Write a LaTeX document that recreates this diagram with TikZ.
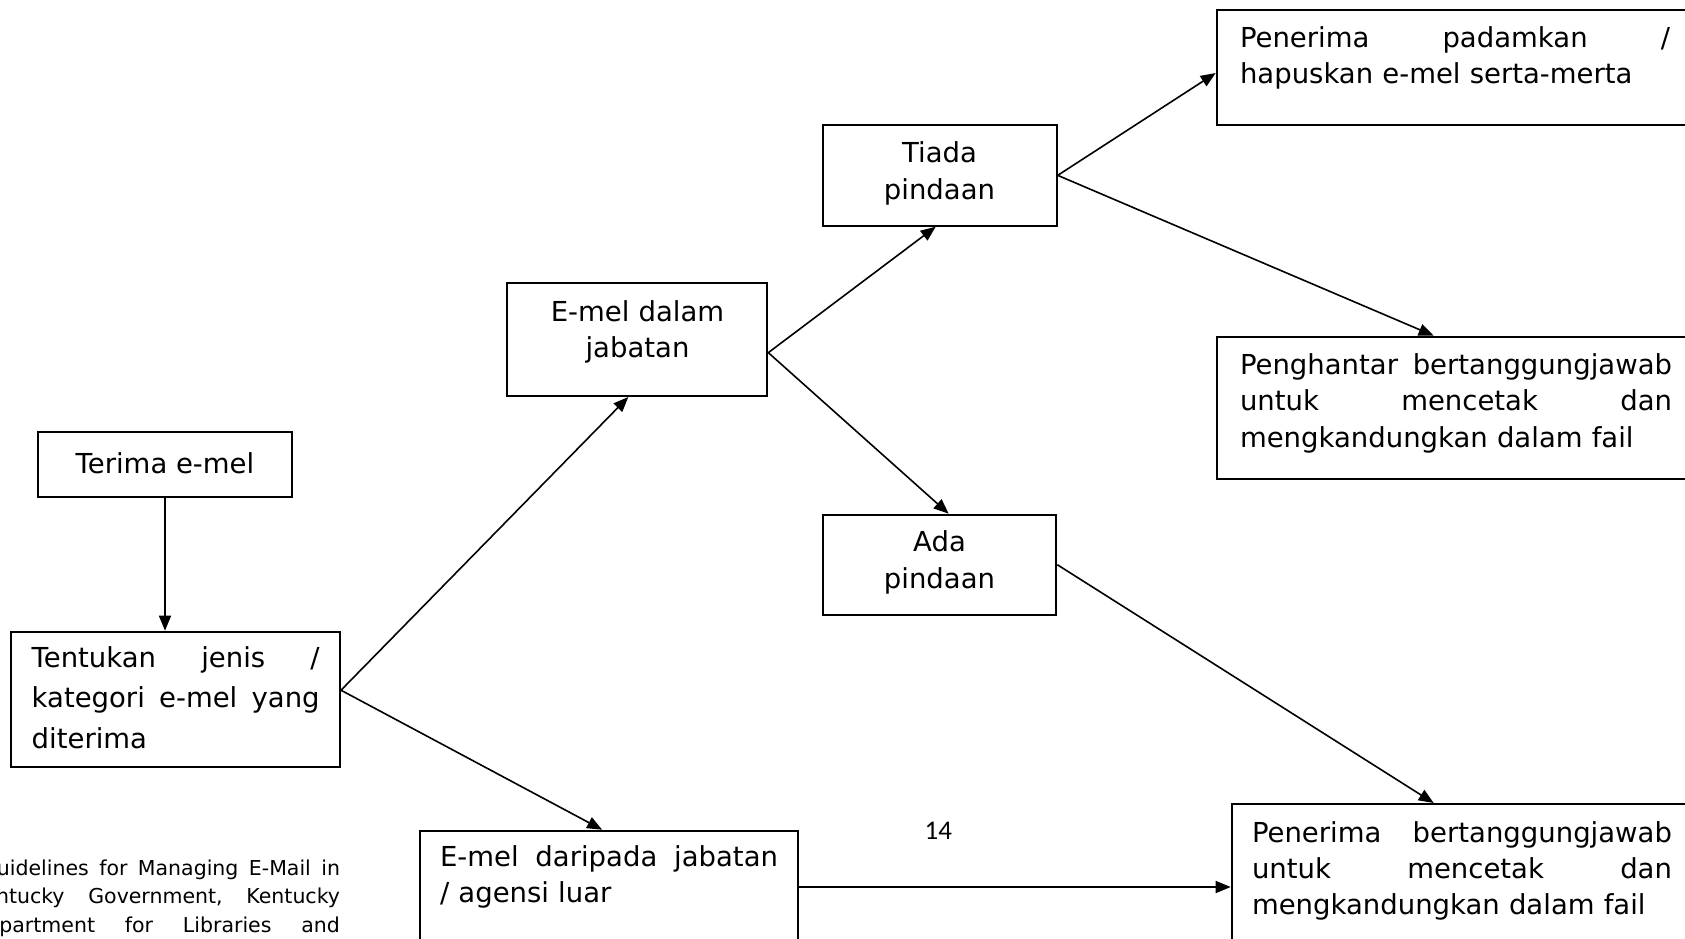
\documentclass[tikz,border=0pt]{standalone}
\usepackage{fontspec}
\setmainfont{DejaVu Sans}
\newfontfamily\numfont{Carlito}
\usetikzlibrary{arrows.meta}
\newcommand\jline[2]{\leavevmode\hbox to #1{#2}}
\begin{document}
\begin{tikzpicture}[x=1pt,y=-1pt,
 box/.style={draw, line width=2pt, inner sep=0pt, minimum width=#1},
 txt/.style={inner sep=0pt, outer sep=0pt, font=\fontsize{27.5}{36.6}\selectfont},
 foot/.style={inner sep=0pt, outer sep=0pt, font=\fontsize{20.5}{28.5}\selectfont},
 arr/.style={line width=1.6pt, -{Triangle[length=15pt,width=12pt]}}]
\useasboundingbox (0,0) rectangle (1685,938);
\fill[white] (0,0) rectangle (1685,938);
\clip (0,0) rectangle (1685,938);

% boxes
\node[box=253.4pt, minimum height=65pt] (terima) at (165,464.2) {};
\node[box=329pt, minimum height=135pt] (tentukan) at (175.5,699.2) {};
\node[box=260pt, minimum height=112.7pt] (dalam) at (637.3,339.65) {};
\node[box=234pt, minimum height=100.7pt] (tiada) at (939.7,175.35) {};
\node[box=233.3pt, minimum height=100pt] (ada) at (939.65,564.7) {};
\node[box=483.3pt, minimum height=115pt] (padam) at (1458.35,67.5) {};
\node[box=483.3pt, minimum height=142.6pt] (penghantar) at (1458.35,408) {};
\node[box=468.3pt, minimum height=166pt] (penerima) at (1465.85,887) {};
\node[box=378.3pt, minimum height=139.3pt] (daripada) at (609.15,900.35) {};

% texts
\node[txt, anchor=base] (tterima) at (165,473) {Terima e-mel};
\node[txt, anchor=base west, text width=288pt, align=left,
      font=\fontsize{27.5}{40.5}\selectfont] (ttentukan) at (31.7,667)
  {\jline{288pt}{Tentukan\hfill jenis\hfill /}\\\jline{288pt}{kategori\hfill e-mel\hfill yang}\\diterima};
\node[txt, anchor=base, text width=240pt, align=center] (tdalam) at (637.5,321)
  {E-mel dalam\\jabatan};
\node[txt, anchor=base, text width=220pt, align=center] (ttiada) at (939.5,162.5)
  {Tiada\\pindaan};
\node[txt, anchor=base, text width=220pt, align=center] (tada) at (939.5,551.5)
  {Ada\\pindaan};
\node[txt, anchor=base west, text width=430pt, align=left] (tpadam) at (1240,47)
  {\jline{430pt}{Penerima\hfill padamkan\hfill /}\\hapuskan e-mel serta-merta};
\node[txt, anchor=base west, text width=432pt, align=left] (tpenghantar) at (1240,374)
  {\jline{432pt}{Penghantar\hfill bertanggungjawab}\\\jline{432pt}{untuk\hfill mencetak\hfill dan}\\mengkandungkan dalam fail};
\node[txt, anchor=base west, text width=420pt, align=left,
      font=\fontsize{27.5}{35.8}\selectfont] (tpenerima) at (1252,842.5)
  {\jline{420pt}{Penerima\hfill bertanggungjawab}\\\jline{420pt}{untuk\hfill mencetak\hfill dan}\\mengkandungkan dalam fail};
\node[txt, anchor=base west, text width=338pt, align=left,
      font=\fontsize{27.5}{35.5}\selectfont] (tdaripada) at (440,866.5)
  {\jline{338pt}{E-mel\hfill daripada\hfill jabatan}\\/ agensi luar};

\node[inner sep=0pt, anchor=base, font=\numfont\fontsize{27}{30}\selectfont] (pg) at (938.3,839) {14};
\node[foot, anchor=base west, text width=369pt, align=left] (footer) at (-29,875)
  {\hspace*{10pt}\jline{359pt}{Guidelines\hfill for\hfill Managing\hfill E-Mail\hfill in}\\\jline{369pt}{Kentucky\hfill Government,\hfill Kentucky}\\\jline{369pt}{Department\hfill for\hfill Libraries\hfill and}};

% connectors
\draw[arr] (terima.south) -- (terima.south |- tentukan.north);
\draw[arr] ([yshift=9pt]tentukan.east) -- ([xshift=-9pt]dalam.south);
\draw[arr] ([yshift=9pt]tentukan.east) -- ([xshift=-7pt]daripada.north);
\draw[arr] ([yshift=-13pt]dalam.east) -- ([xshift=-4pt]tiada.south);
\draw[arr] ([yshift=-13pt]dalam.east) -- ([xshift=9pt]ada.north);
\draw[arr] (tiada.east) -- ([yshift=-5.5pt]padam.west);
\draw[arr] (tiada.east) -- ([xshift=218pt]penghantar.north west);
\draw[arr] (ada.east) -- ([xshift=203pt]penerima.north west);
\draw[arr] (daripada.east |- penerima.west) -- (penerima.west);
\end{tikzpicture}
\end{document}
